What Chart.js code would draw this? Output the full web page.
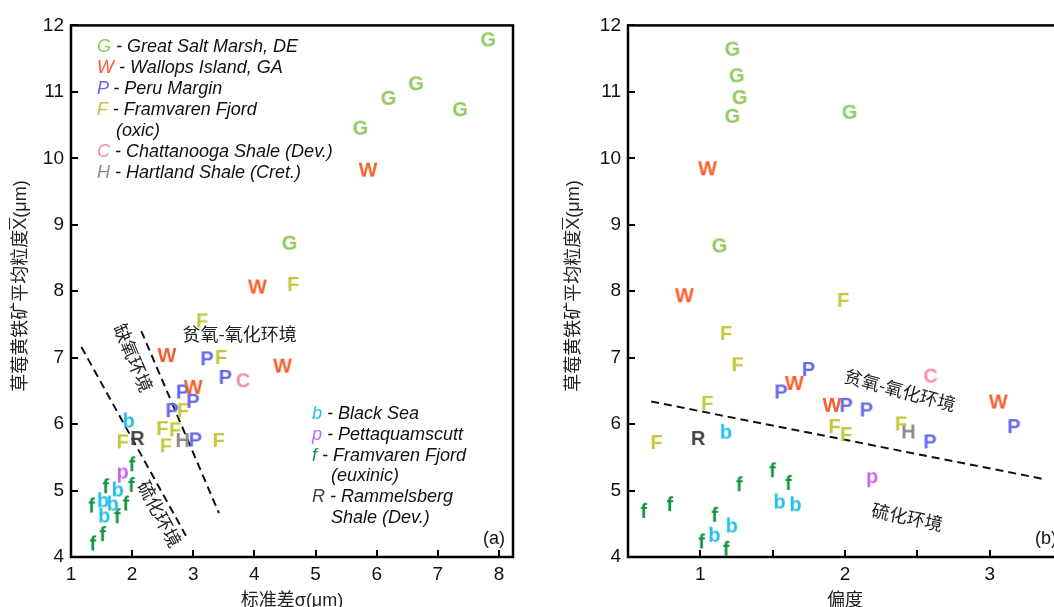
<!DOCTYPE html>
<html>
<head>
<meta charset="utf-8">
<script src="https://cdn.jsdelivr.net/npm/chart.js@4.4.0/dist/chart.umd.min.js"></script>
<style>
  html, body { margin: 0; padding: 0; background: #fff; }
  body { width: 1054px; height: 607px; overflow: hidden; position: relative;
         font-family: "Liberation Sans", Arial, "Noto Sans CJK SC", sans-serif; color: #111; }
  .panel { position: absolute; top: 0; height: 620px; }
  #wrapA { left: 0; width: 530px; }
  #wrapB { left: 530px; width: 545px; }
  .legend { position: absolute; font-size: 18px; font-style: italic; line-height: 21px; white-space: nowrap; }
  .legend .ind { padding-left: 19px; }
  .tag { position: absolute; font-size: 18px; }
  .ytitle { position: absolute; width: 300px; height: 22px; line-height: 22px; margin-left: -150px; margin-top: -11px;
            text-align: center; transform: rotate(-90deg); font-size: 18px; color: #222; white-space: nowrap; }
  .ytitle .bar { text-decoration: overline; }
</style>
</head>
<body>
<div class="panel" id="wrapA"><canvas id="chartA" width="530" height="620"></canvas></div>
<div class="panel" id="wrapB"><canvas id="chartB" width="545" height="620"></canvas></div>

<div class="ytitle" style="left:20px; top:286px;">草莓黄铁矿平均粒度<span class="bar">X</span>(μm)</div>
<div class="ytitle" style="left:573px; top:286px;">草莓黄铁矿平均粒度<span class="bar">X</span>(μm)</div>

<div class="legend" style="left:97px; top:36px;">
  <div><span style="color:#8dc95f">G</span> - Great Salt Marsh, DE</div>
  <div><span style="color:#f4602d">W</span> - Wallops Island, GA</div>
  <div><span style="color:#6666ee">P</span> - Peru Margin</div>
  <div><span style="color:#c5c63a">F</span> - Framvaren Fjord</div>
  <div class="ind">(oxic)</div>
  <div><span style="color:#f28db3">C</span> - Chattanooga Shale (Dev.)</div>
  <div><span style="color:#8a8a8a">H</span> - Hartland Shale (Cret.)</div>
</div>

<div class="legend" style="left:312px; top:403px; line-height:20.8px;">
  <div><span style="color:#22bfe8">b</span> - Black Sea</div>
  <div><span style="color:#c466ee">p</span> - Pettaquamscutt</div>
  <div><span style="color:#14943e">f</span> - Framvaren Fjord</div>
  <div class="ind">(euxinic)</div>
  <div><span style="color:#444">R</span> - Rammelsberg</div>
  <div class="ind">Shale (Dev.)</div>
</div>

<div class="tag" style="left:483px; top:528px;">(a)</div>
<div class="tag" style="left:1035px; top:528px;">(b)</div>

<script>
// (a) 标准差 vs 平均粒度
const gA = [[7.82, 11.79], [6.64, 11.13], [6.19, 10.91], [7.36, 10.74], [5.73, 10.46], [4.57, 8.73]];
const wA = [[5.86, 9.83], [4.05, 8.07], [2.57, 7.04], [4.46, 6.88], [3.0, 6.56]];
const pA = [[3.23, 6.99], [3.53, 6.71], [2.83, 6.49], [3.0, 6.35], [2.66, 6.21], [3.04, 5.77]];
const fOxA = [[4.64, 8.11], [3.15, 7.56], [3.46, 7.01], [2.84, 6.21], [2.50, 5.94], [2.71, 5.92], [1.85, 5.74], [2.56, 5.68], [3.42, 5.76]];
const cA = [[3.81, 6.66]];
const hA = [[2.83, 5.76]];
const bA = [[1.95, 6.07], [1.77, 5.03], [1.53, 4.87], [1.69, 4.82], [1.55, 4.64]];
const pPetA = [[1.85, 5.24]];
const fEuxA = [[2.0, 5.41], [1.99, 5.10], [1.57, 5.08], [1.90, 4.82], [1.34, 4.79], [1.76, 4.63], [1.52, 4.36], [1.36, 4.22]];
const rA = [[2.10, 5.79]];
const boundA1 = [[1.17, 7.16], [2.88, 4.32]];
const boundA2 = [[2.15, 7.40], [3.42, 4.66]];

// (b) 偏度 vs 平均粒度
const gB = [[1.22, 11.65], [1.25, 11.25], [1.27, 10.92], [1.22, 10.64], [2.03, 10.70], [1.13, 8.69]];
const wB = [[1.05, 9.85], [0.89, 7.94], [1.65, 6.62], [1.91, 6.29], [3.06, 6.34]];
const pB = [[1.75, 6.83], [1.56, 6.49], [2.01, 6.29], [2.15, 6.22], [3.17, 5.97], [2.59, 5.74]];
const fOxB = [[1.99, 7.87], [1.18, 7.37], [1.26, 6.90], [1.05, 6.32], [1.93, 5.97], [2.01, 5.85], [2.39, 6.01], [0.70, 5.73]];
const cB = [[2.59, 6.73]];
const hB = [[2.44, 5.89]];
const bB = [[1.18, 5.90], [1.55, 4.85], [1.66, 4.81], [1.22, 4.49], [1.10, 4.35]];
const pPetB = [[2.19, 5.17]];
const fEuxB = [[1.50, 5.32], [1.27, 5.11], [1.61, 5.13], [0.61, 4.71], [0.79, 4.81], [1.10, 4.65], [1.01, 4.25], [1.18, 4.14]];
const rB = [[0.99, 5.79]];
const boundB = [[0.66, 6.34], [3.38, 5.17]];

const colors = {
  G: '#8dc95f', W: '#f4602d', P: '#6666ee', F: '#c5c63a', C: '#f28db3',
  H: '#8a8a8a', b: '#22bfe8', p: '#c466ee', f: '#14943e', R: '#444444'
};

// small canvas with one bold letter, used as the point style
function letterSprite(ch, color) {
  const c = document.createElement('canvas');
  c.width = 30; c.height = 30;
  const g = c.getContext('2d');
  g.font = 'bold 20px "Liberation Sans", Arial, sans-serif';
  const m = g.measureText(ch);
  const w = m.actualBoundingBoxLeft + m.actualBoundingBoxRight;
  const h = m.actualBoundingBoxAscent + m.actualBoundingBoxDescent;
  g.fillStyle = color;
  g.fillText(ch, 15 - w / 2 + m.actualBoundingBoxLeft, 15 - h / 2 + m.actualBoundingBoxAscent);
  return c;
}

function letterSet(ch, pts) {
  return {
    label: ch,
    data: pts.map(p => ({ x: p[0], y: p[1] })),
    pointStyle: letterSprite(ch, colors[ch]),
    pointRadius: 6,
    showLine: false
  };
}

function dashed(pts) {
  return {
    data: pts.map(p => ({ x: p[0], y: p[1] })),
    showLine: true,
    borderColor: '#111',
    borderWidth: 2,
    borderDash: [8, 5],
    pointRadius: 0
  };
}

// frame around the plot area + rotated region names placed in data space
function decorations(notes) {
  return {
    id: 'decorations',
    afterDraw(chart) {
      const { ctx, chartArea: a, scales } = chart;
      ctx.save();
      ctx.fillStyle = '#222';
      ctx.textAlign = 'center';
      ctx.textBaseline = 'middle';
      notes.forEach(n => {
        ctx.save();
        ctx.translate(scales.x.getPixelForValue(n.x), scales.y.getPixelForValue(n.y));
        ctx.rotate(n.angle * Math.PI / 180);
        ctx.font = '18px "Noto Sans CJK SC", sans-serif';
        ctx.fillText(n.text, 0, 0);
        ctx.restore();
      });
      ctx.strokeStyle = '#000';
      ctx.lineWidth = 2.5;
      ctx.strokeRect(a.left, a.top, a.right - a.left, a.bottom - a.top);
      ctx.restore();
    }
  };
}

const tickFont = { family: '"Liberation Sans", Arial, sans-serif', size: 19 };
const titleFont = { family: '"Liberation Sans", "Noto Sans CJK SC", sans-serif', size: 18 };

function makeChart(id, sets, xOpts, xTitle, pad, yWidth, notes) {
  return new Chart(document.getElementById(id), {
    type: 'scatter',
    data: { datasets: sets },
    options: {
      responsive: false,
      animation: false,
      events: [],
      layout: { padding: pad },
      plugins: { legend: { display: false }, tooltip: { enabled: false } },
      scales: {
        x: Object.assign({
          type: 'linear',
          border: { display: false },
          grid: { drawOnChartArea: false, drawTicks: true, tickLength: -7, color: '#000', lineWidth: 2 },
          title: { display: true, text: xTitle, font: titleFont, color: '#222', padding: 0 },
          afterFit(s) { s.height = 55; }
        }, xOpts),
        y: {
          type: 'linear',
          min: 4, max: 12,
          border: { display: false },
          grid: { drawOnChartArea: false, drawTicks: true, tickLength: -7, color: '#000', lineWidth: 2 },
          ticks: { stepSize: 1, font: tickFont, color: '#111', padding: 14 },
          afterFit(s) { s.width = yWidth; }
        }
      }
    },
    plugins: [decorations(notes)]
  });
}

makeChart('chartA', [
  letterSet('G', gA), letterSet('W', wA), letterSet('P', pA), letterSet('F', fOxA),
  letterSet('C', cA), letterSet('H', hA), letterSet('b', bA), letterSet('p', pPetA),
  letterSet('f', fEuxA), letterSet('R', rA),
  dashed(boundA1), dashed(boundA2)
], {
  min: 1, max: 8.23,
  ticks: { stepSize: 1, includeBounds: false, font: tickFont, color: '#111', padding: 13 }
}, '标准差σ(μm)', { left: 6, right: 17, top: 15, bottom: 8 }, 65, [
  { text: '缺氧环境', x: 2.02, y: 7.0, angle: 67 },
  { text: '硫化环境', x: 2.45, y: 4.65, angle: 62 },
  { text: '贫氧-氧化环境', x: 3.76, y: 7.36, angle: 0 }
]);

makeChart('chartB', [
  letterSet('G', gB), letterSet('W', wB), letterSet('P', pB), letterSet('F', fOxB),
  letterSet('C', cB), letterSet('H', hB), letterSet('b', bB), letterSet('p', pPetB),
  letterSet('f', fEuxB), letterSet('R', rB),
  dashed(boundB)
], {
  min: 0.5, max: 3.5,
  ticks: {
    stepSize: 0.5, includeBounds: false, font: tickFont, color: '#111', padding: 13,
    callback: v => (Number.isInteger(v) ? v : '')
  }
}, '偏度', { left: 29, right: 11, top: 15, bottom: 8 }, 69, [
  { text: '贫氧-氧化环境', x: 2.38, y: 6.51, angle: 15 },
  { text: '硫化环境', x: 2.43, y: 4.6, angle: 12 }
]);
</script>
</body>
</html>
